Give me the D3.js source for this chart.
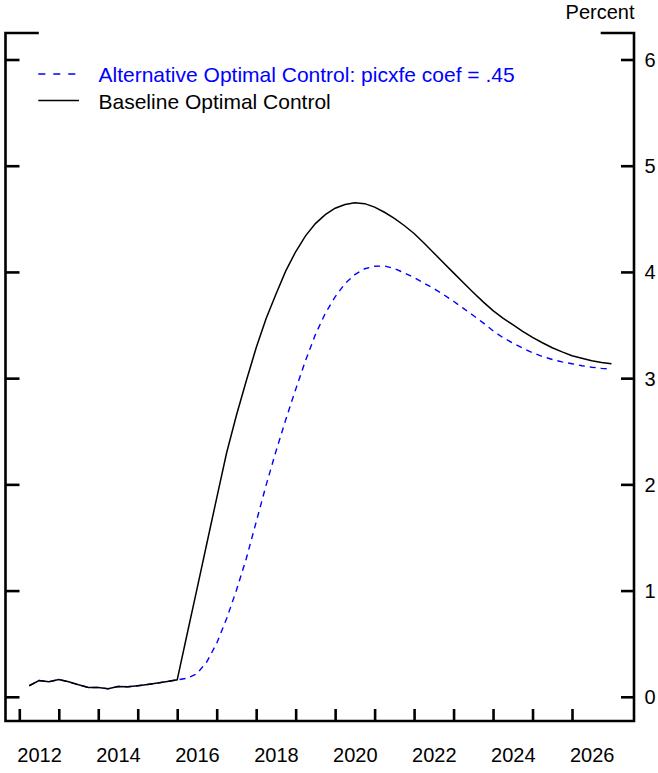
<!DOCTYPE html>
<html>
<head>
<meta charset="utf-8">
<script src="https://cdn.jsdelivr.net/npm/d3@7"></script>
<style>
  html, body { margin: 0; padding: 0; background: #fff; }
  svg { display: block; font-family: "Liberation Sans", Arial, Helvetica, sans-serif; }
</style>
</head>
<body>
<svg id="chart" width="658" height="773"></svg>
<script>
// ---- Data (quarterly, decimal year of quarter end) ----
const quarters = d3.range(2012.25, 2027.01, 0.25);

const baselineValues = [
  0.104, 0.153, 0.141, 0.163, 0.141, 0.113, 0.088, 0.088,
  0.075, 0.097, 0.094, 0.104, 0.116, 0.129, 0.144, 0.160,
  0.589, 1.013, 1.443, 1.871, 2.295, 2.651, 2.976, 3.286,
  3.560, 3.790, 4.010, 4.190, 4.340, 4.455, 4.540, 4.600,
  4.635, 4.652, 4.643, 4.610, 4.562, 4.505, 4.437, 4.362,
  4.272, 4.179, 4.085, 3.991, 3.898, 3.807, 3.718, 3.636,
  3.566, 3.503, 3.441, 3.383, 3.333, 3.286, 3.247, 3.211,
  3.187, 3.164, 3.148, 3.136
];

const alternativeValues = [
  0.104, 0.153, 0.141, 0.163, 0.141, 0.113, 0.088, 0.088,
  0.075, 0.097, 0.094, 0.104, 0.116, 0.129, 0.144, 0.160,
  0.174, 0.217, 0.330, 0.503, 0.734, 1.003, 1.302, 1.645,
  1.990, 2.310, 2.610, 2.894, 3.165, 3.410, 3.610, 3.765,
  3.890, 3.975, 4.030, 4.054, 4.056, 4.032, 3.992, 3.948,
  3.895, 3.843, 3.786, 3.724, 3.657, 3.590, 3.520, 3.446,
  3.382, 3.330, 3.282, 3.239, 3.204, 3.176, 3.153, 3.136,
  3.117, 3.103, 3.092, 3.086
];

const yTickValues = [0, 1, 2, 3, 4, 5, 6];
const xTickYears = d3.range(2012, 2027);          // year boundaries (tick marks)
const xLabelYears = [2012, 2014, 2016, 2018, 2020, 2022, 2024, 2026];

const legendLabels = ["Alternative Optimal Control: picxfe coef = .45", "Baseline Optimal Control"];
const unitLabel = "Percent";

// ---- Layout ----
const frameLeft = 5.5, frameRight = 634, frameTop = 33, frameBottom = 721;
const svg = d3.select("#chart");

const x = d3.scaleLinear().domain([2012, 2026]).range([19.3, 572]);
const y = d3.scaleLinear().domain([0, 6]).range([696.8, 59.5]);

const axisColor = "#000";
const axisW = 2.6;
const fontAxis = 20;
const fontLegend = 21;

// Frame lines
const frame = svg.append("g").attr("stroke", axisColor).attr("stroke-width", axisW).attr("fill", "none")
  .attr("stroke-linecap", "square");
frame.append("path").attr("d", `M${frameLeft + 32},${frameTop}H${frameLeft}V${frameBottom}H${frameRight}V${frameTop}H${frameRight - 32}`);

// Left axis ticks (inward)
const leftAxis = d3.axisLeft(y).tickValues(yTickValues).tickSizeInner(-14).tickSizeOuter(0).tickFormat("");
const gl = svg.append("g").attr("transform", `translate(${frameLeft},0)`).call(leftAxis);
gl.select(".domain").remove();
gl.selectAll(".tick line").attr("stroke", axisColor).attr("stroke-width", axisW);

// Right axis ticks (inward) with labels outside
const rightAxis = d3.axisRight(y).tickValues(yTickValues).tickSizeInner(-13).tickSizeOuter(0).tickFormat(d3.format("d"));
const gr = svg.append("g").attr("transform", `translate(${frameRight},0)`).call(rightAxis);
gr.select(".domain").remove();
gr.selectAll(".tick line").attr("stroke", axisColor).attr("stroke-width", axisW);
gr.selectAll(".tick text").attr("x", 10.5).attr("dy", "0.35em")
  .attr("font-size", fontAxis).attr("font-family", "Liberation Sans, Arial, sans-serif").attr("fill", "#000");

// Bottom axis: tick marks at year boundaries
const bottomAxis = d3.axisBottom(x).tickValues(xTickYears).tickSizeInner(-12).tickSizeOuter(0).tickFormat("");
const gb = svg.append("g").attr("transform", `translate(0,${frameBottom})`).call(bottomAxis);
gb.select(".domain").remove();
gb.selectAll(".tick line").attr("stroke", axisColor).attr("stroke-width", axisW);

// Year labels centered mid-year
const labelAxis = d3.axisBottom(x).tickValues(xLabelYears.map(d => d + 0.5)).tickSize(0)
  .tickFormat(d => String(Math.floor(d)));
const gbl = svg.append("g").attr("transform", `translate(0,${frameBottom})`).call(labelAxis);
gbl.select(".domain").remove();
gbl.selectAll(".tick text").attr("y", 0).attr("dy", 40.8)
  .attr("font-size", fontAxis).attr("font-family", "Liberation Sans, Arial, sans-serif").attr("fill", "#000");

// Unit label
svg.append("text").attr("x", frameRight + 0.5).attr("y", 19).attr("text-anchor", "end")
  .attr("font-size", fontAxis).attr("fill", "#000").text(unitLabel);

// Series
const line = d3.line().x((d, i) => x(quarters[i])).y(d => y(d));

svg.append("path").datum(alternativeValues).attr("d", line)
  .attr("fill", "none").attr("stroke", "#0000ff").attr("stroke-width", 1.4)
  .attr("stroke-dasharray", "6,5");

svg.append("path").datum(baselineValues).attr("d", line)
  .attr("fill", "none").attr("stroke", "#000").attr("stroke-width", 1.5);

// Legend
const lg = svg.append("g");
lg.append("line").attr("x1", 38.3).attr("x2", 78).attr("y1", 74).attr("y2", 74)
  .attr("stroke", "#0000ff").attr("stroke-width", 1.6).attr("stroke-dasharray", "7,8");
lg.append("text").attr("x", 98.5).attr("y", 81.5).attr("font-size", fontLegend).attr("fill", "#0000ff").text(legendLabels[0]);
lg.append("line").attr("x1", 38.3).attr("x2", 79).attr("y1", 100.5).attr("y2", 100.5)
  .attr("stroke", "#000").attr("stroke-width", 1.6);
lg.append("text").attr("x", 98.5).attr("y", 109).attr("font-size", fontLegend).attr("fill", "#000").text(legendLabels[1]);
</script>
</body>
</html>
